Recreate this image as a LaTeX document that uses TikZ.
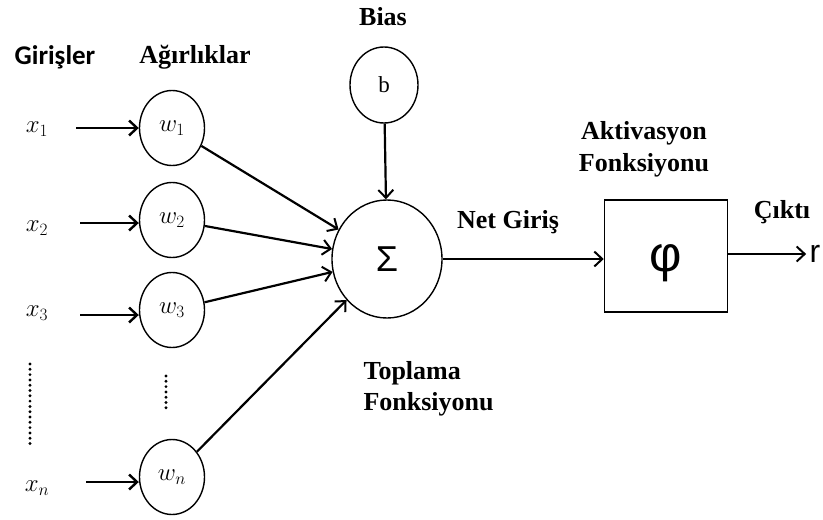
\documentclass[tikz,border=0pt]{standalone}
\usepackage{fontspec}
\setmainfont{Liberation Serif}
\newfontfamily\labelsans{Carlito}
\newfontfamily\symsans{Liberation Sans}
\usetikzlibrary{shapes.geometric,arrows.meta}
\begin{document}
\begin{tikzpicture}[x=1pt,y=-1pt,
  wnode/.style={draw,line width=1.4pt,ellipse,minimum width=65pt,minimum height=75pt,inner sep=0pt},
  lbl/.style={font=\fontsize{26}{30}\selectfont\bfseries},
  mathlbl/.style={font=\fontsize{24}{28}\selectfont},
  inarrow/.style={line width=2.8pt,-{Straight Barb[length=8pt,width=15pt,line width=2.4pt]}},
  link/.style={line width=2.2pt,-{Straight Barb[length=8pt,width=15pt,line width=2pt]}},
  dotcol/.style={line width=3.2pt,dash pattern=on 0pt off 5.3pt,line cap=round}]
\useasboundingbox (0,0) rectangle (823,520);

% headings
\node[font=\fontsize{27}{30}\selectfont\bfseries\labelsans] (hin) at (55,57) {Girişler};
\node[lbl] (hw) at (195,57) {Ağırlıklar};
\node[lbl] (hbias) at (383,17) {Bias};

% inputs
\node[mathlbl] (x1) at (37,129) {$x_1$};
\node[mathlbl] (x2) at (37,228) {$x_2$};
\node[mathlbl] (x3) at (37,313) {$x_3$};
\node[mathlbl] (xn) at (37,488) {$x_n$};

% weights
\node[wnode,mathlbl] (w1) at (172,128) {$w_1$};
\node[wnode,mathlbl] (w2) at (172,220) {$w_2$};
\node[wnode,mathlbl] (w3) at (172,310) {$w_3$};
\node[wnode,mathlbl] (wn) at (172,477) {$w_n$};

% continuation dots
\coordinate (dxa) at (30,364);
\coordinate (dxb) at (30,445);
\coordinate (dwa) at (166,376);
\coordinate (dwb) at (166,410);
\draw[dotcol] (dxa) -- (dxb);
\draw[dotcol] (dwa) -- (dwb);

% input arrows
\coordinate (a1) at (76,128);
\coordinate (a2) at (80,223);
\coordinate (a3) at (80,315);
\coordinate (an) at (86,482);
\draw[inarrow] (a1) -- (w1.west |- a1);
\draw[inarrow] (a2) -- (w2.west |- a2);
\draw[inarrow] (a3) -- (w3.west |- a3);
\draw[inarrow] (an) -- (wn.west |- an);

% bias and summation
\node[wnode,minimum width=68pt,minimum height=76pt,font=\fontsize{23}{26}\selectfont] (b) at (384,85) {b};
\node[draw,line width=1.4pt,ellipse,minimum width=110pt,minimum height=118pt,inner sep=0pt,
      font=\fontsize{36}{38}\selectfont\symsans] (sum) at (387,259) {Σ};

\draw[link] (w1) -- (sum);
\draw[link] (w2) -- (sum);
\draw[link] (w3) -- (sum);
\draw[link] (wn) -- (sum);
\draw[link] (b) -- (sum);

\node[lbl,anchor=west] (top1) at (360,373) {Toplama};
\node[lbl,anchor=west] (top2) at (360,404) {Fonksiyonu};

% activation box and its symbol
\node[draw,line width=1.5pt,minimum width=123pt,minimum height=112pt,inner sep=0pt] (act) at (666,256) {};
\node[font=\fontsize{50}{52}\selectfont\symsans] (phi) at ([yshift=-7pt]act.center) {φ};
\node[lbl] (net) at (508,222) {Net Giriş};
\draw[link] (sum.east) -- (act.west |- sum.east);

\node[lbl] (ak1) at (644,133) {Aktivasyon};
\node[lbl] (ak2) at (644,165) {Fonksiyonu};

% output
\node[lbl] (cikti) at (782,212) {Çıktı};
\node[font=\fontsize{32}{34}\selectfont\symsans] (r) at (815,254) {r};
\draw[link] (act.east |- r) -- (r.west);
\end{tikzpicture}
\end{document}
